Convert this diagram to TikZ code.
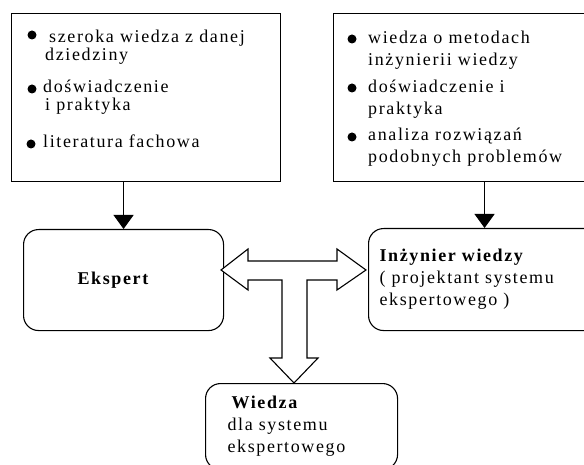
\documentclass[tikz,border=0pt]{standalone}
\usepackage{fontspec}
\setmainfont{Liberation Serif}
\newfontfamily\rozstrzel[LetterSpace=9]{Liberation Serif}
\usetikzlibrary{arrows.meta,positioning,calc}

\begin{document}
\begin{tikzpicture}[x=1pt, y=-1pt,
  box/.style={draw, line width=1.1pt, inner sep=0pt, anchor=north west},
  rbox/.style={draw, line width=1.1pt, rounded corners=15pt, anchor=north west, inner xsep=11pt, align=left, font=\rozstrzel\fontsize{18}{22}\selectfont},
  txt/.style={inner sep=0pt, anchor=base west, align=left, font=\rozstrzel\fontsize{18}{18}\selectfont},
  rtxt/.style={txt, font=\rozstrzel\fontsize{18}{22}\selectfont},
  dot/.style={circle, fill, inner sep=0pt, minimum size=9pt},
  arr/.style={-{Triangle[width=20pt,length=14pt]}, line width=1.1pt},
  dblarr/.style={draw, fill=white, line width=1.1pt, line join=miter}
]
\clip (0,0) rectangle (584,465);

% zrodla wiedzy (txt kotwiczony na ostatniej linii)
\node[box, minimum width=269pt, minimum height=168pt] (dziedzina) at (11,13) {};
\node[box, minimum width=290pt, minimum height=168pt] (metody) at (333,13) {};

\node[dot] (d1) at (32,35) {};
\node[txt] (t1) at (49,61) {szeroka wiedza z danej\\\hspace*{-4pt}dziedziny};
\node[dot] (d2) at (32,89) {};
\node[txt] (t2) at (43,111) {doświadczenie\\\hspace*{2pt}i praktyka};
\node[dot] (d3) at (31,144) {};
\node[txt] (t3) at (43,148) {literatura fachowa};

\node[dot] (m1) at (352,39) {};
\node[rtxt] (u1) at (368,66) {wiedza o metodach\\inżynierii wiedzy};
\node[dot] (m2) at (352,88) {};
\node[rtxt] (u2) at (368,115) {doświadczenie i\\praktyka};
\node[dot] (m3) at (352,137) {};
\node[rtxt] (u3) at (368,163) {analiza rozwiązań\\podobnych problemów};

% uczestnicy
\node[rbox, minimum width=200pt, minimum height=101pt, text width=178pt] (ekspert) at (23,229) {\hspace*{43pt}\textbf{Ekspert}};
\node[rbox, minimum width=232pt, minimum height=102pt, text width=210pt] (inzynier) at (368,228) {\textbf{Inżynier wiedzy}\\( projektant systemu\\ekspertowego )};
\node[rbox, inner xsep=22pt, minimum width=192pt, minimum height=86pt, text width=148pt] (wiedza) at (205,383) {\hspace*{4pt}\textbf{Wiedza}\\dla systemu\\ekspertowego};

\draw[arr] (ekspert.north |- dziedzina.south) -- (ekspert.north);
\draw[arr] (inzynier.north |- metody.south) -- (inzynier.north);

% strzalka podwojna z odgalezieniem
\draw[dblarr] (221,270) -- (248,249) -- (248,261) -- (337,261) -- (337,249) -- (366,270) -- (337,290) -- (337,280)
  -- (307,280) -- (307,358) -- (318,358) -- (294,383) -- (270,358) -- (282,358) -- (282,280)
  -- (248,280) -- (248,290) -- cycle;

\end{tikzpicture}
\end{document}
